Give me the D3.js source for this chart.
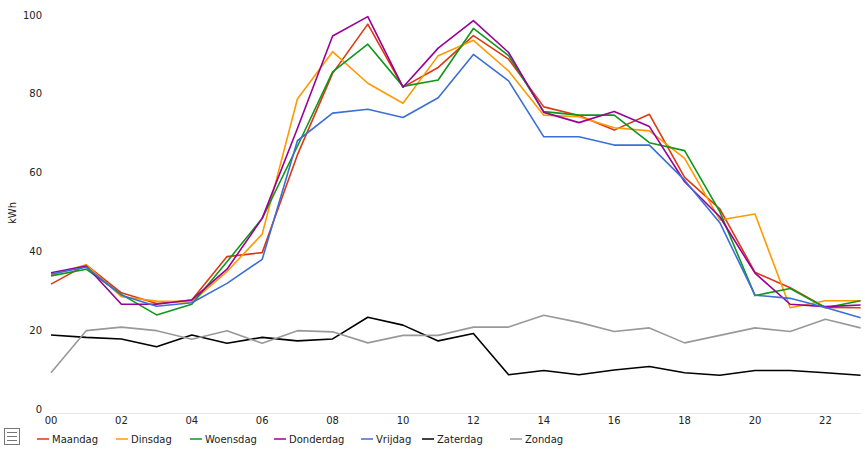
<!DOCTYPE html>
<html>
<head>
<meta charset="utf-8">
<script src="https://cdn.jsdelivr.net/npm/d3@7"></script>
<style>
  body { margin: 0; background: #fff; }
  text { font-family: "DejaVu Sans", Verdana, sans-serif; fill: #222; }
</style>
</head>
<body>
<div id="chart"></div>
<script>
const hours = ["00","01","02","03","04","05","06","07","08","09","10","11","12","13","14","15","16","17","18","19","20","21","22","23"];
const yTicks = [0, 20, 40, 60, 80, 100];
const dayNames = ["Maandag", "Dinsdag", "Woensdag", "Donderdag", "Vrijdag", "Zaterdag", "Zondag"];
const dayColors = ["#dc3912", "#ff9900", "#109618", "#990099", "#3b6fd6", "#000000", "#999999"];

const maandag   = [32.7, 37.6, 30.5, 27.8, 28.7, 39.7, 40.7, 65.5, 86.2, 98.7, 82.7, 87.7, 95.8, 89.8, 77.7, 75.5, 71.8, 75.8, 59.8, 51.8, 35.7, 31.8, 26.8, 26.7];
const dinsdag   = [35.0, 37.6, 29.5, 28.4, 28.2, 35.9, 45.4, 79.7, 91.7, 83.7, 78.6, 90.7, 94.6, 86.8, 75.6, 75.2, 72.4, 71.6, 64.6, 49.0, 50.5, 26.7, 28.5, 28.5];
const woensdag  = [34.8, 36.5, 30.1, 24.9, 27.6, 38.4, 49.4, 67.7, 86.6, 93.6, 82.9, 84.5, 97.6, 90.7, 76.5, 75.6, 75.6, 68.6, 66.6, 51.1, 29.8, 31.6, 26.7, 28.5];
const donderdag = [35.6, 37.3, 27.6, 27.6, 28.7, 36.5, 49.4, 72.2, 95.7, 100.6, 82.7, 92.6, 99.6, 91.5, 76.3, 73.7, 76.5, 72.7, 58.7, 49.8, 35.5, 27.6, 27.0, 27.4];
const vrijdag   = [35.3, 37.0, 29.9, 27.1, 28.0, 32.9, 39.0, 69.1, 76.1, 77.1, 75.0, 80.0, 91.0, 84.3, 70.1, 70.1, 68.0, 68.0, 59.1, 48.3, 29.9, 29.1, 26.8, 24.2];
const zaterdag  = [19.8, 19.2, 18.8, 16.8, 19.8, 17.7, 19.2, 18.3, 18.8, 24.3, 22.3, 18.3, 20.2, 9.7, 10.8, 9.7, 10.9, 11.8, 10.2, 9.6, 10.8, 10.8, 10.2, 9.6];
const zondag    = [10.2, 20.9, 21.8, 20.9, 18.7, 20.9, 17.7, 20.9, 20.6, 17.8, 19.7, 19.7, 21.8, 21.8, 24.8, 23.0, 20.7, 21.6, 17.8, 19.7, 21.6, 20.7, 23.8, 21.6];

const series = [maandag, dinsdag, woensdag, donderdag, vrijdag, zaterdag, zondag];

const W = 865, H = 449;
const margin = { top: 19, right: 4, bottom: 36, left: 51 },
      width = W - margin.left - margin.right,
      height = H - margin.top - margin.bottom;

const svg = d3.select("#chart").append("svg")
    .attr("width", W)
    .attr("height", H);

const g = svg.append("g")
    .attr("transform", "translate(" + margin.left + "," + margin.top + ")");

const x = d3.scalePoint().domain(hours).range([0, width - 0.4]);
const y = d3.scaleLinear().domain([0, 100]).range([height, 0]);

// baseline
g.append("line")
    .attr("x1", 0).attr("x2", width)
    .attr("y1", height + 0.5).attr("y2", height + 0.5)
    .attr("stroke", "#e6e6e6")
    .attr("stroke-width", 1);

// y labels (sit slightly above their value)
g.selectAll(".ylab")
    .data(yTicks)
    .enter().append("text")
    .attr("class", "ylab")
    .attr("x", -9)
    .attr("y", d => y(d) - 4)
    .attr("dy", "0.35em")
    .attr("text-anchor", "end")
    .style("font-size", "10px")
    .text(d => d);

// x labels, every second hour
g.selectAll(".xlab")
    .data(hours.filter((h, i) => i % 2 === 0))
    .enter().append("text")
    .attr("class", "xlab")
    .attr("x", d => x(d))
    .attr("y", height + 7)
    .attr("dy", "0.35em")
    .attr("text-anchor", "middle")
    .style("font-size", "10px")
    .text(d => d);

svg.append("text")
    .attr("transform", "translate(12," + 213 + ") rotate(-90)")
    .attr("text-anchor", "middle")
    .attr("dy", "0.35em")
    .style("font-size", "10px")
    .text("kWh");

const line = d3.line()
    .x((d, i) => x(hours[i]))
    .y(d => y(d));

series.forEach((s, i) => {
    g.append("path")
        .datum(s)
        .attr("fill", "none")
        .attr("stroke", dayColors[i])
        .attr("stroke-width", 1.6)
        .attr("stroke-linejoin", "round")
        .attr("d", line);
});

// legend
const legendX = [37, 116, 190, 274, 361, 422, 510];
const legendY = 439;
const legend = svg.append("g");
dayNames.forEach((name, i) => {
    legend.append("line")
        .attr("x1", legendX[i]).attr("x2", legendX[i] + 12)
        .attr("y1", legendY).attr("y2", legendY)
        .attr("stroke", dayColors[i])
        .attr("stroke-opacity", 0.75)
        .attr("stroke-width", 2);
    legend.append("text")
        .attr("x", legendX[i] + 15)
        .attr("y", legendY)
        .attr("dy", "0.35em")
        .style("font-size", "10px")
        .text(name);
});

// menu icon
const icon = svg.append("g").attr("transform", "translate(4,428)");
icon.append("rect")
    .attr("x", 0.5).attr("y", 0.5)
    .attr("width", 15).attr("height", 16)
    .attr("fill", "none")
    .attr("stroke", "#777");
[4.5, 8.5, 12.5].forEach(yy => {
    icon.append("line")
        .attr("x1", 3).attr("x2", 13)
        .attr("y1", yy).attr("y2", yy)
        .attr("stroke", "#777");
});
</script>
</body>
</html>
